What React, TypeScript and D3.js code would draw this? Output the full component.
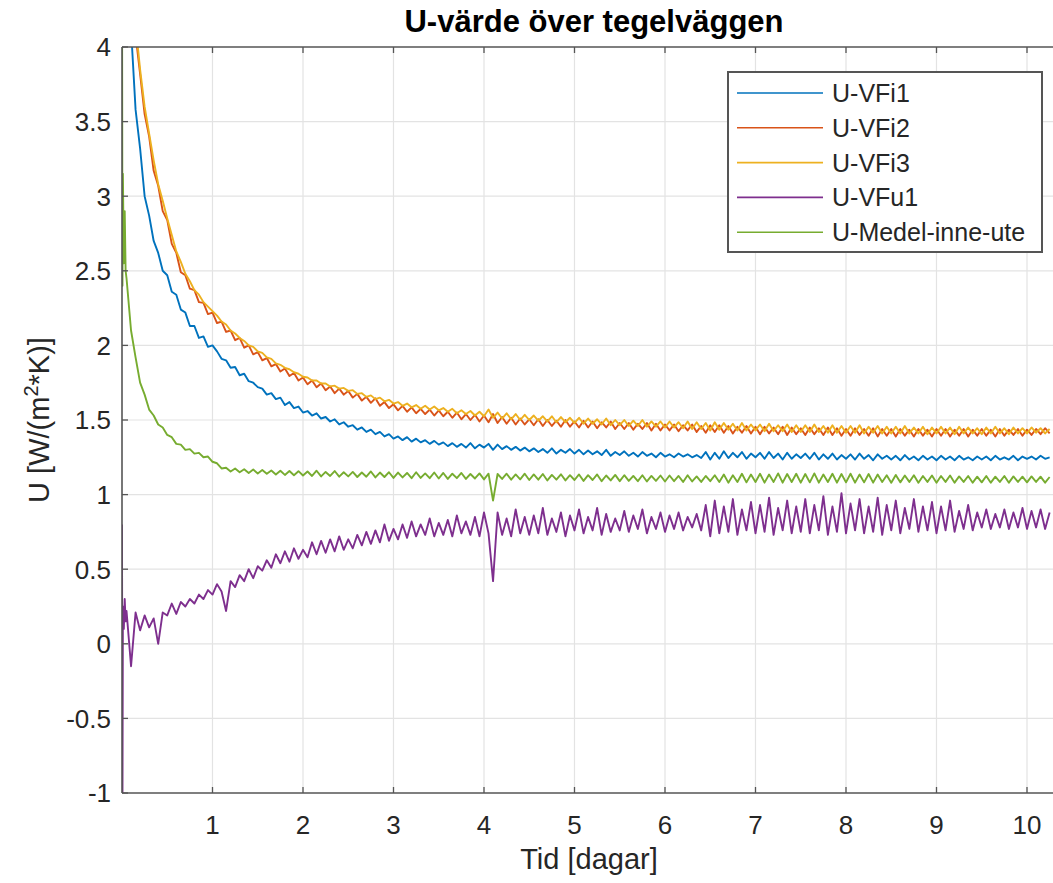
import React from 'react';
import * as d3 from 'd3';

const W = 1053;
const H = 883;
const PLOT = { left: 122, right: 1027, top: 47, bottom: 793, edge: 1060 };

// time grid [days]: a few early samples then every 0.05 day
const EARLY_T = [0, 0.005, 0.01, 0.02, 0.03, 0.04];
const STEP_T = d3.range(1, 206).map((k) => +(k * 0.05).toFixed(2));
const TIME = EARLY_T.concat(STEP_T);

const X_TICKS = [1, 2, 3, 4, 5, 6, 7, 8, 9, 10];
const Y_TICKS = [-1, -0.5, 0, 0.5, 1, 1.5, 2, 2.5, 3, 3.5, 4];

const U_VFi1 = [
  5.8, 5.6, 5.5, 5.3, 5.1, 4.9,
  4.6, 4.12, 3.58, 3.32, 3.0, 2.87, 2.7, 2.62, 2.5, 2.47,
  2.36, 2.34, 2.24, 2.22, 2.13, 2.13, 2.05, 2.06, 1.99, 2.0,
  1.96, 1.91, 1.9, 1.85, 1.855, 1.8, 1.81, 1.76, 1.75, 1.72,
  1.71, 1.67, 1.68, 1.64, 1.65, 1.6, 1.62, 1.58, 1.59, 1.55,
  1.56, 1.53, 1.545, 1.51, 1.52, 1.49, 1.505, 1.47, 1.485, 1.455,
  1.465, 1.435, 1.45, 1.42, 1.435, 1.405, 1.42, 1.39, 1.405, 1.375,
  1.39, 1.365, 1.385, 1.355, 1.375, 1.35, 1.365, 1.34, 1.36, 1.335,
  1.35, 1.325, 1.345, 1.32, 1.34, 1.315, 1.345, 1.31, 1.335, 1.315,
  1.34, 1.3, 1.335, 1.305, 1.325, 1.3, 1.32, 1.295, 1.315, 1.29,
  1.31, 1.285, 1.305, 1.28, 1.31, 1.275, 1.3, 1.28, 1.305, 1.275,
  1.3, 1.27, 1.295, 1.27, 1.29, 1.265, 1.3, 1.26, 1.285, 1.265,
  1.29, 1.26, 1.28, 1.255, 1.285, 1.26, 1.275, 1.25, 1.28, 1.255,
  1.27, 1.25, 1.275, 1.255, 1.27, 1.25, 1.265, 1.245, 1.285, 1.235,
  1.28, 1.24, 1.29, 1.245, 1.28, 1.25, 1.285, 1.24, 1.275, 1.25,
  1.28, 1.24, 1.285, 1.245, 1.275, 1.235, 1.28, 1.24, 1.27, 1.245,
  1.275, 1.24, 1.28, 1.235, 1.27, 1.24, 1.275, 1.235, 1.265, 1.24,
  1.27, 1.235, 1.275, 1.24, 1.265, 1.23, 1.27, 1.24, 1.26, 1.235,
  1.26, 1.23, 1.265, 1.235, 1.255, 1.23, 1.26, 1.235, 1.255, 1.23,
  1.26, 1.235, 1.255, 1.23, 1.26, 1.235, 1.25, 1.23, 1.255, 1.235,
  1.255, 1.23, 1.26, 1.235, 1.25, 1.235, 1.26, 1.23, 1.255, 1.24,
  1.255, 1.235, 1.26, 1.24, 1.25,
];

const U_VFi2 = [
  6.5, 6.3, 6.1, 5.8, 5.6, 5.3,
  5.0, 4.6, 4.08, 3.82, 3.55, 3.4, 3.17, 3.07, 2.9, 2.84,
  2.68, 2.62, 2.49, 2.47, 2.38, 2.37, 2.29, 2.285, 2.21, 2.22,
  2.15, 2.16, 2.09, 2.1, 2.035, 2.05, 1.985, 2.0, 1.94, 1.955,
  1.9, 1.915, 1.86, 1.875, 1.825, 1.845, 1.795, 1.815, 1.765, 1.785,
  1.74, 1.765, 1.72, 1.745, 1.7, 1.725, 1.68, 1.71, 1.67, 1.695,
  1.65, 1.675, 1.63, 1.655, 1.615, 1.645, 1.595, 1.62, 1.58, 1.605,
  1.565, 1.595, 1.555, 1.585, 1.545, 1.575, 1.54, 1.57, 1.53, 1.565,
  1.525, 1.555, 1.515, 1.55, 1.505, 1.54, 1.5, 1.535, 1.49, 1.53,
  1.485, 1.54, 1.48, 1.52, 1.475, 1.515, 1.47, 1.51, 1.47, 1.505,
  1.465, 1.505, 1.46, 1.5, 1.46, 1.495, 1.455, 1.5, 1.455, 1.49,
  1.45, 1.495, 1.45, 1.49, 1.445, 1.485, 1.45, 1.49, 1.44, 1.48,
  1.44, 1.48, 1.435, 1.475, 1.44, 1.48, 1.43, 1.475, 1.43, 1.47,
  1.43, 1.47, 1.425, 1.465, 1.43, 1.47, 1.42, 1.46, 1.415, 1.465,
  1.42, 1.465, 1.415, 1.46, 1.41, 1.455, 1.415, 1.46, 1.41, 1.455,
  1.405, 1.455, 1.41, 1.45, 1.405, 1.455, 1.4, 1.45, 1.405, 1.445,
  1.4, 1.45, 1.405, 1.445, 1.4, 1.45, 1.4, 1.445, 1.395, 1.44,
  1.395, 1.445, 1.4, 1.44, 1.395, 1.445, 1.39, 1.44, 1.395, 1.44,
  1.39, 1.44, 1.395, 1.435, 1.39, 1.44, 1.395, 1.435, 1.39, 1.44,
  1.395, 1.44, 1.39, 1.435, 1.395, 1.44, 1.39, 1.435, 1.395, 1.44,
  1.395, 1.435, 1.39, 1.44, 1.395, 1.435, 1.4, 1.44, 1.395, 1.435,
  1.4, 1.44, 1.405, 1.445, 1.41,
];

const U_VFi3 = [
  6.6, 6.4, 6.2, 5.9, 5.7, 5.4,
  5.1, 4.65, 4.15, 3.85, 3.6, 3.42, 3.24, 3.08, 2.97, 2.85,
  2.74, 2.63, 2.56, 2.48, 2.43, 2.37, 2.34, 2.29, 2.26, 2.23,
  2.2, 2.16, 2.14, 2.1, 2.08, 2.05, 2.03, 2.0, 1.99, 1.96,
  1.95, 1.92, 1.91, 1.88, 1.87, 1.85, 1.84, 1.82, 1.81, 1.79,
  1.785, 1.765, 1.765, 1.745, 1.745, 1.725, 1.73, 1.71, 1.715, 1.695,
  1.7, 1.675, 1.68, 1.655, 1.665, 1.64, 1.65, 1.625, 1.635, 1.61,
  1.62, 1.595, 1.61, 1.585, 1.6, 1.575, 1.595, 1.57, 1.59, 1.565,
  1.58, 1.555, 1.575, 1.545, 1.565, 1.54, 1.56, 1.53, 1.555, 1.525,
  1.57, 1.515, 1.55, 1.51, 1.545, 1.505, 1.54, 1.5, 1.535, 1.5,
  1.53, 1.495, 1.525, 1.49, 1.525, 1.485, 1.52, 1.485, 1.515, 1.48,
  1.515, 1.475, 1.51, 1.475, 1.505, 1.47, 1.51, 1.465, 1.5, 1.465,
  1.5, 1.46, 1.495, 1.46, 1.5, 1.455, 1.49, 1.455, 1.49, 1.45,
  1.49, 1.45, 1.485, 1.445, 1.49, 1.44, 1.485, 1.44, 1.48, 1.43,
  1.485, 1.435, 1.48, 1.435, 1.475, 1.43, 1.48, 1.43, 1.47, 1.43,
  1.47, 1.425, 1.475, 1.425, 1.465, 1.425, 1.47, 1.42, 1.465, 1.42,
  1.465, 1.42, 1.47, 1.42, 1.46, 1.415, 1.465, 1.415, 1.46, 1.415,
  1.46, 1.415, 1.465, 1.41, 1.455, 1.415, 1.46, 1.41, 1.455, 1.41,
  1.455, 1.41, 1.46, 1.41, 1.45, 1.41, 1.455, 1.405, 1.45, 1.41,
  1.455, 1.41, 1.45, 1.405, 1.455, 1.41, 1.45, 1.41, 1.445, 1.405,
  1.45, 1.41, 1.455, 1.41, 1.445, 1.405, 1.45, 1.41, 1.445, 1.41,
  1.45, 1.415, 1.445, 1.41, 1.44,
];

const U_VFu1 = [
  0.8, -1.1, 0.25, 0.1, 0.3, 0.15,
  0.22, -0.15, 0.21, 0.09, 0.19, 0.11, 0.17, 0.0, 0.21, 0.19,
  0.27, 0.2, 0.28, 0.25, 0.3, 0.27, 0.33, 0.3, 0.36, 0.33,
  0.4, 0.35, 0.22, 0.42, 0.38, 0.46, 0.42, 0.5, 0.44, 0.52,
  0.49, 0.56, 0.51, 0.6, 0.54, 0.62, 0.55, 0.64, 0.57, 0.63,
  0.58, 0.68, 0.6, 0.69, 0.61, 0.7, 0.62, 0.72, 0.63, 0.7,
  0.64, 0.73, 0.66, 0.75, 0.67, 0.76, 0.68, 0.8, 0.69, 0.77,
  0.7, 0.8, 0.71, 0.82, 0.72, 0.8, 0.73, 0.84, 0.72, 0.81,
  0.73, 0.83, 0.72, 0.86, 0.74, 0.82, 0.73, 0.85, 0.72, 0.88,
  0.74, 0.42, 0.88, 0.73, 0.84, 0.72, 0.9, 0.74, 0.85, 0.73,
  0.86, 0.74, 0.91, 0.73, 0.84, 0.75, 0.88, 0.72, 0.86, 0.76,
  0.9, 0.74, 0.85, 0.76, 0.91, 0.73, 0.87, 0.75, 0.84, 0.76,
  0.89, 0.75, 0.86, 0.77, 0.9, 0.74, 0.85, 0.77, 0.88, 0.75,
  0.86, 0.77, 0.88, 0.76, 0.85, 0.78, 0.87, 0.76, 0.93, 0.72,
  0.96, 0.74, 0.92, 0.75, 0.97, 0.73, 0.9, 0.76, 0.95, 0.74,
  0.93, 0.75, 0.98, 0.73, 0.91, 0.76, 0.96, 0.74, 0.92, 0.75,
  0.97, 0.74, 0.93, 0.76, 0.99, 0.73, 0.92, 0.75, 1.01, 0.74,
  0.94, 0.76, 0.97, 0.74, 0.92, 0.75, 0.98, 0.73, 0.93, 0.76,
  0.96, 0.74, 0.91, 0.77, 0.97, 0.75, 0.92, 0.76, 0.95, 0.74,
  0.92, 0.76, 0.96, 0.75, 0.89, 0.77, 0.93, 0.76, 0.88, 0.78,
  0.9, 0.77, 0.87, 0.78, 0.9, 0.77, 0.88, 0.78, 0.91, 0.77,
  0.89, 0.78, 0.9, 0.77, 0.88,
];

const U_MEDEL = [
  4.6, 2.4, 3.15, 2.55, 2.9, 2.5,
  2.45, 2.1, 1.92, 1.75, 1.67, 1.57, 1.53, 1.47, 1.45, 1.4,
  1.385, 1.34, 1.335, 1.3, 1.305, 1.275, 1.28, 1.25, 1.255, 1.22,
  1.21, 1.175, 1.18, 1.155, 1.175, 1.15, 1.17, 1.145, 1.168, 1.142,
  1.165, 1.14, 1.162, 1.135, 1.16, 1.132, 1.158, 1.13, 1.157, 1.128,
  1.155, 1.125, 1.16, 1.122, 1.152, 1.125, 1.158, 1.12, 1.15, 1.122,
  1.152, 1.118, 1.148, 1.12, 1.155, 1.115, 1.148, 1.118, 1.15, 1.112,
  1.148, 1.115, 1.145, 1.11, 1.15, 1.112, 1.142, 1.11, 1.148, 1.108,
  1.145, 1.105, 1.14, 1.11, 1.145, 1.105, 1.138, 1.108, 1.142, 1.102,
  1.14, 0.96, 1.138, 1.105, 1.14, 1.1, 1.135, 1.102, 1.14, 1.098,
  1.135, 1.1, 1.138, 1.095, 1.132, 1.1, 1.136, 1.095, 1.13, 1.098,
  1.135, 1.092, 1.13, 1.098, 1.135, 1.09, 1.128, 1.095, 1.132, 1.09,
  1.13, 1.092, 1.125, 1.09, 1.13, 1.088, 1.125, 1.092, 1.128, 1.088,
  1.128, 1.09, 1.125, 1.085, 1.13, 1.088, 1.122, 1.085, 1.125, 1.09,
  1.13, 1.085, 1.135, 1.08, 1.13, 1.085, 1.14, 1.082, 1.135, 1.085,
  1.14, 1.08, 1.135, 1.085, 1.142, 1.08, 1.138, 1.085, 1.14, 1.08,
  1.138, 1.082, 1.142, 1.08, 1.135, 1.085, 1.14, 1.08, 1.138, 1.082,
  1.14, 1.08, 1.135, 1.082, 1.138, 1.08, 1.135, 1.085, 1.13, 1.08,
  1.132, 1.082, 1.128, 1.085, 1.13, 1.08, 1.125, 1.085, 1.128, 1.08,
  1.125, 1.085, 1.128, 1.08, 1.122, 1.085, 1.125, 1.08, 1.12, 1.082,
  1.125, 1.08, 1.12, 1.085, 1.125, 1.08, 1.122, 1.085, 1.12, 1.082,
  1.122, 1.085, 1.12, 1.08, 1.118,
];

const SERIES_NAMES = ['U-VFi1', 'U-VFi2', 'U-VFi3', 'U-VFu1', 'U-Medel-inne-ute'];
const SERIES_VALUES = [U_VFi1, U_VFi2, U_VFi3, U_VFu1, U_MEDEL];
const COLORS = ['#0072BD', '#D95319', '#EDB120', '#7E2F8E', '#77AC30'];

const FONT = 'Liberation Sans, Arial, Helvetica, sans-serif';

export default function App() {
  const x = d3.scaleLinear().domain([0, 10]).range([PLOT.left, PLOT.right]);
  const y = d3.scaleLinear().domain([-1, 4]).range([PLOT.bottom, PLOT.top]);

  const line = d3
    .line<[number, number]>()
    .x((d) => x(d[0]))
    .y((d) => y(d[1]));

  const axisColor = '#555555';
  const gridColor = '#e3e3e3';
  const tickLen = 6;

  const legend = { x: 728, y: 72, w: 314, h: 180, rowY0: 93, rowDy: 34.8 };

  return (
    <svg
      width={W}
      height={H}
      style={{ position: 'absolute', left: 0, top: 0, background: '#fff' }}
      fontFamily={FONT}
    >
      <defs>
        <clipPath id="plotClip">
          <rect x={PLOT.left} y={PLOT.top} width={PLOT.edge - PLOT.left} height={PLOT.bottom - PLOT.top} />
        </clipPath>
      </defs>
      <rect x={0} y={0} width={W} height={H} fill="#fff" />

      {/* grid */}
      <g stroke={gridColor} strokeWidth={1.2}>
        {X_TICKS.map((t) => (
          <line key={'gx' + t} x1={x(t)} x2={x(t)} y1={PLOT.top} y2={PLOT.bottom} />
        ))}
        {Y_TICKS.slice(1, -1).map((t) => (
          <line key={'gy' + t} x1={PLOT.left} x2={PLOT.edge} y1={y(t)} y2={y(t)} />
        ))}
      </g>

      {/* data */}
      <g clipPath="url(#plotClip)" fill="none" strokeWidth={1.9} strokeLinejoin="round">
        {SERIES_VALUES.map((vals, i) => {
          const pts: [number, number][] = TIME.map((t, j) => [t, vals[j]] as [number, number]).filter(
            (p) => p[1] !== undefined
          );
          return <path key={SERIES_NAMES[i]} d={line(pts) || ''} stroke={COLORS[i]} />;
        })}
      </g>

      {/* axes box */}
      <g stroke={axisColor} strokeWidth={1.6}>
        <line x1={PLOT.left} x2={PLOT.edge} y1={PLOT.bottom} y2={PLOT.bottom} />
        <line x1={PLOT.left} x2={PLOT.edge} y1={PLOT.top} y2={PLOT.top} />
        <line x1={PLOT.left} x2={PLOT.left} y1={PLOT.top} y2={PLOT.bottom} />
      </g>
      <g stroke={axisColor} strokeWidth={1.3}>
        {X_TICKS.map((t) => (
          <g key={'tx' + t}>
            <line x1={x(t)} x2={x(t)} y1={PLOT.bottom} y2={PLOT.bottom - tickLen} />
            <line x1={x(t)} x2={x(t)} y1={PLOT.top} y2={PLOT.top + tickLen} />
          </g>
        ))}
        {Y_TICKS.map((t) => (
          <line key={'ty' + t} x1={PLOT.left} x2={PLOT.left + tickLen} y1={y(t)} y2={y(t)} />
        ))}
      </g>

      {/* tick labels */}
      <g fill="#262626" fontSize={26}>
        {X_TICKS.map((t) => (
          <text key={'lx' + t} x={x(t)} y={PLOT.bottom + 41} textAnchor="middle">
            {t}
          </text>
        ))}
        {Y_TICKS.map((t) => (
          <text key={'ly' + t} x={PLOT.left - 11} y={y(t)} dy="0.36em" textAnchor="end">
            {t}
          </text>
        ))}
      </g>

      {/* title & labels */}
      <text x={594} y={32} textAnchor="middle" fontSize={31} fontWeight="bold" fill="#000">
        U-värde över tegelväggen
      </text>
      <text x={589} y={869} textAnchor="middle" fontSize={29} fill="#262626">
        Tid [dagar]
      </text>
      <text
        transform={`translate(49, ${(PLOT.top + PLOT.bottom) / 2}) rotate(-90)`}
        textAnchor="middle"
        fontSize={29}
        fill="#262626"
      >
        U [W/(m
        <tspan fontSize={20} dy={-11}>
          2
        </tspan>
        <tspan dy={11}>*K)]</tspan>
      </text>

      {/* legend */}
      <g>
        <rect
          x={legend.x}
          y={legend.y}
          width={legend.w}
          height={legend.h}
          fill="#fff"
          stroke="#555"
          strokeWidth={2}
        />
        {SERIES_NAMES.map((name, i) => {
          const ly = legend.rowY0 + i * legend.rowDy;
          return (
            <g key={'lg' + name}>
              <line x1={737} x2={823} y1={ly} y2={ly} stroke={COLORS[i]} strokeWidth={1.6} />
              <text x={832} y={ly} dy="0.36em" fontSize={25} fill="#262626">
                {name}
              </text>
            </g>
          );
        })}
      </g>
    </svg>
  );
}
